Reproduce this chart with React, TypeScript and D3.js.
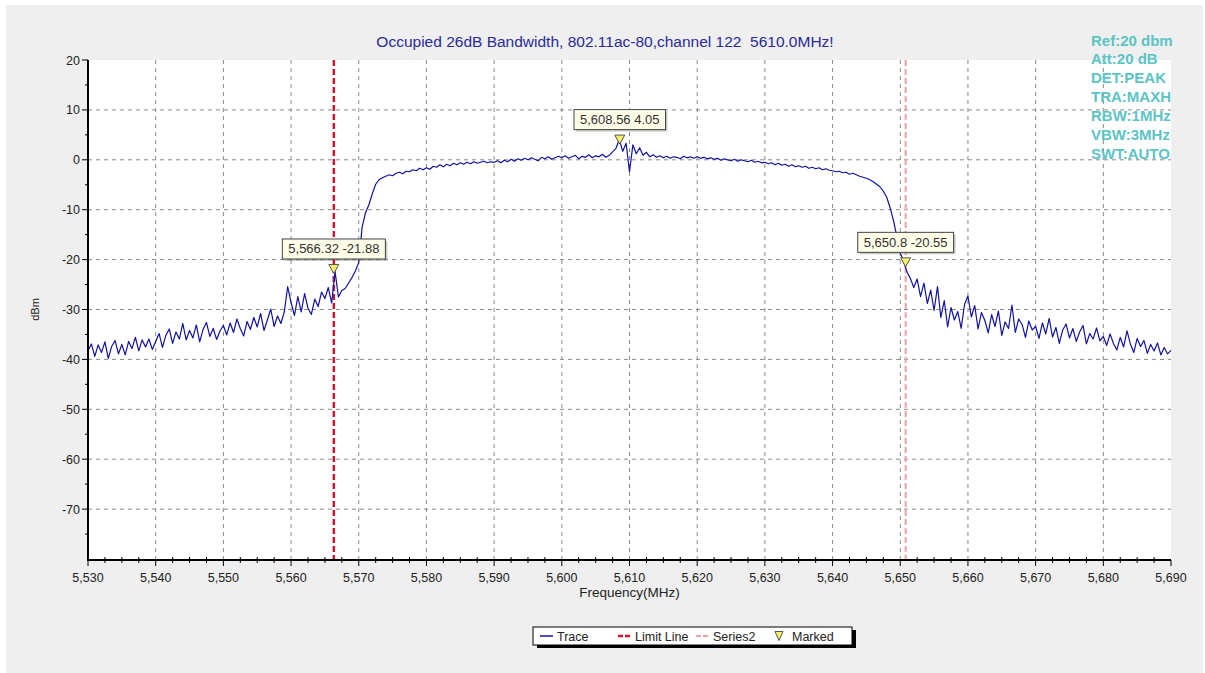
import React from 'react';
import * as d3 from 'd3';

// chart text
const title = 'Occupied 26dB Bandwidth, 802.11ac-80,channel 122  5610.0MHz!';
const infoLines = ['Ref:20 dbm', 'Att:20 dB', 'DET:PEAK', 'TRA:MAXH', 'RBW:1MHz', 'VBW:3MHz', 'SWT:AUTO'];
const legendItems = ['Trace', 'Limit Line', 'Series2', 'Marked'];

// axes
const xTickValues = [5530, 5540, 5550, 5560, 5570, 5580, 5590, 5600, 5610, 5620, 5630, 5640, 5650, 5660, 5670, 5680, 5690];
const yTickValues = [20, 10, 0, -10, -20, -30, -40, -50, -60, -70];

const freqStart = 5530;
const freqStep = 0.5;
const traceDbm = [
  // 5530
  -38.2, -36.9, -39.4, -37.1, -38.6, -36.5, -39.8, -37.4, -36.2, -38.9, -37.0, -39.1, -36.4, -37.8, -35.6, -38.3, -36.1, -37.5, -35.9, -38.0,
  // 5540
  -36.4, -34.8, -37.6, -35.2, -33.9, -36.8, -34.5, -35.9, -32.8, -36.1, -34.2, -35.7, -33.1, -36.5, -34.0, -32.6, -35.4, -33.8, -36.0, -34.3,
  // 5550
  -33.2, -35.1, -32.7, -34.6, -31.9, -33.8, -35.3, -32.4, -34.0, -31.6, -33.5, -30.8, -34.2, -32.1, -29.9, -33.4, -31.3, -32.8, -30.5, -25.4,
  // 5560
  -28.6, -31.2, -27.4, -30.5, -26.8, -29.7, -31.0, -27.9, -29.4, -26.5, -27.8, -25.6, -28.7, -22.4, -27.5, -26.2, -25.8, -24.7, -23.6, -22.3,
  // 5570
  -20.6, -13.5, -10.6, -9.0, -6.8, -4.9, -4.0, -3.6, -3.3, -3.0, -3.2, -2.7, -2.5, -2.8, -2.3, -2.4, -2.0, -2.2, -1.7, -2.0,
  // 5580
  -1.6, -1.9, -1.3, -1.5, -1.0, -1.4, -0.9, -1.2, -0.7, -1.0, -0.6, -0.9, -0.5, -0.8, -0.4, -0.7, -0.5, -0.3, -0.6, -0.4,
  // 5590
  -0.5, -0.2, -0.6, -0.1, -0.4, 0.1, -0.3, 0.2, -0.1, 0.3, 0.0, 0.4, 0.1, -0.2, 0.5, 0.2, 0.6, 0.1, 0.4, 0.7,
  // 5600
  0.4, 0.8, 0.3, 0.6, 0.9, 0.2, 0.7, 0.5, 1.0, 0.4, 0.8, 0.6, 1.1, 0.5, 0.9, 1.6, 2.3, 4.05, 1.7, 3.3,
  // 5610
  -2.4, 3.0, 1.2, 2.4, 0.9, 1.5, 0.6, 1.0, 0.5, 0.8, 0.4, 0.7, 0.3, 0.6, 0.5, 0.2, 0.7, 0.4, 0.6, 0.3,
  // 5620
  0.6, 0.3, 0.5, 0.2, 0.4, 0.1, 0.3, -0.1, 0.2, 0.0, -0.2, 0.1, -0.3, 0.0, -0.2, -0.4, -0.1, -0.5, -0.3, -0.6,
  // 5630
  -0.5, -0.8, -0.6, -1.0, -0.7, -1.1, -0.9, -1.3, -1.0, -1.4, -1.2, -1.5, -1.3, -1.7, -1.5, -1.8, -1.6, -2.0, -1.8, -2.1,
  // 5640
  -2.2, -2.4, -2.3, -2.6, -2.5, -2.9, -2.7, -3.0, -3.3, -3.5, -3.7, -4.0, -4.4, -4.9, -5.4, -6.3, -7.5, -9.6, -12.2, -15.4,
  // 5650
  -18.7, -20.4, -22.5, -23.8, -25.6, -23.9, -27.4, -24.7, -28.8, -26.1, -30.2, -25.4, -31.6, -28.2, -33.5, -29.6, -32.1, -30.4, -33.8, -29.0,
  // 5660
  -27.3, -31.5, -29.2, -33.9, -30.6, -32.2, -34.7, -31.0, -33.4, -30.3, -35.2, -32.5, -33.8, -29.1, -34.6, -31.9, -33.0, -35.6, -32.3, -34.1,
  // 5670
  -33.4, -35.8, -32.7, -34.9, -31.8, -35.5, -33.6, -36.8, -34.1, -32.9, -35.7, -33.8, -36.4, -34.5, -33.2, -36.9, -34.8, -35.9, -33.7, -36.3,
  // 5680 .. 5690
  -35.4, -37.2, -34.9, -36.8, -38.1, -35.6, -37.5, -34.3, -36.9, -38.6, -35.8, -37.4, -36.2, -38.8, -37.0, -38.3, -36.7, -39.1, -37.6, -38.9, -38.2,
];

// limit lines and markers
const limitFreq = 5566.32;
const series2Freq = 5650.8;
const markerFreqs = [5566.32, 5608.56, 5650.8];
const markerDbm = [-21.88, 4.05, -20.55];

const W = 1205;
const H = 673;
const FONT = '"Liberation Sans", Arial, sans-serif';

const textWidth = (s: string, size: number) =>
  (s.split('').reduce((w, c) => w + (/[0-9]/.test(c) ? 6.67 : c === '-' ? 4 : 3.34), 0) * size) / 12;

const App: React.FC = () => {
  const x = d3.scaleLinear().domain([5530, 5690]).range([88, 1171]);
  const y = d3.scaleLinear().domain([-80, 20]).range([559, 60]);
  const fmt = d3.format(',');

  const points: [number, number][] = traceDbm.map((v, i) => [freqStart + i * freqStep, v]);
  const line = d3.line<[number, number]>().x((d) => x(d[0])).y((d) => y(d[1]));

  const minorX: number[] = [];
  for (let i = 0; i < xTickValues.length - 1; i++) {
    [2.5, 5, 7.5].forEach((o) => minorX.push(xTickValues[i] + o));
  }
  const minorY = [15, 5, -5, -15, -25, -35, -45, -55, -65, -75];

  const tri = (cx: number, cy: number, s = 5) =>
    `M${cx - s},${cy - 4.5}L${cx + s},${cy - 4.5}L${cx},${cy + 4.5}Z`;

  const [x0, x1] = x.range();
  const [yb, yt] = y.range();

  return (
    <svg width={W} height={H} style={{ position: 'absolute', left: 0, top: 0, fontFamily: FONT }}>
      <rect x={0} y={0} width={W} height={H} fill="#ffffff" />
      <rect x={6} y={5} width={1197} height={668} fill="#efefef" />
      <rect x={x0} y={yt} width={x1 - x0} height={yb - yt} fill="#ffffff" />

      {/* grid */}
      {xTickValues.slice(1, -1).map((t) => (
        <line key={'gx' + t} x1={x(t)} x2={x(t)} y1={yt} y2={yb} stroke="#8a8a8a" strokeDasharray="4,4" />
      ))}
      {yTickValues.slice(1).map((t) => (
        <line key={'gy' + t} x1={x0} x2={x1} y1={y(t)} y2={y(t)} stroke="#8a8a8a" strokeDasharray="4,4" />
      ))}

      {/* limit lines */}
      <line x1={x(limitFreq)} x2={x(limitFreq)} y1={yt} y2={yb} stroke="#cc1530" strokeWidth={2.5} strokeDasharray="6,3" />
      <line x1={x(series2Freq)} x2={x(series2Freq)} y1={yt} y2={yb} stroke="#f2a0a4" strokeWidth={2} strokeDasharray="6,3" />

      {/* trace */}
      <path d={line(points) || ''} fill="none" stroke="#1212a2" strokeWidth={1.2} strokeLinejoin="round" />

      {/* axes */}
      <line x1={x0} x2={x0} y1={yt} y2={yb + 1} stroke="#000" strokeWidth={2} />
      <line x1={x0 - 1} x2={x1} y1={yb + 1} y2={yb + 1} stroke="#000" strokeWidth={2} />
      {yTickValues.map((t) => (
        <g key={'yt' + t}>
          <line x1={x0 - 6} x2={x0} y1={y(t)} y2={y(t)} stroke="#000" />
          <text x={x0 - 8} y={y(t) + 4.5} textAnchor="end" fontSize={12.5} fill="#222">{t}</text>
        </g>
      ))}
      {minorY.map((t) => (
        <line key={'my' + t} x1={x0 - 3} x2={x0} y1={y(t)} y2={y(t)} stroke="#000" />
      ))}
      {xTickValues.map((t) => (
        <g key={'xt' + t}>
          <line x1={x(t)} x2={x(t)} y1={yb + 1} y2={yb + 7} stroke="#000" />
          <text x={x(t)} y={yb + 23} textAnchor="middle" fontSize={12.5} fill="#222">{fmt(t)}</text>
        </g>
      ))}
      {minorX.map((t) => (
        <line key={'mx' + t} x1={x(t)} x2={x(t)} y1={yb - 2} y2={yb + 4} stroke="#000" />
      ))}

      <text x={(x0 + x1) / 2} y={597} textAnchor="middle" fontSize={13.5} fill="#222">Frequency(MHz)</text>
      <text transform={`translate(39,${(yt + yb) / 2}) rotate(-90)`} textAnchor="middle" fontSize={11} fill="#222">dBm</text>

      {/* title */}
      <text x={605} y={47} textAnchor="middle" fontSize={15.5} fill="#2a2a9a" style={{ whiteSpace: 'pre' }}>{title}</text>

      {/* markers */}
      {markerFreqs.map((f, i) => {
        const cx = x(f);
        const cy = y(markerDbm[i]);
        const label = `${fmt(f)} ${markerDbm[i]}`;
        const bw = textWidth(label, 13) + 12;
        return (
          <g key={'m' + i}>
            <path d={tri(cx, cy)} fill="#f5f06a" stroke="#555" strokeWidth={1} />
            <rect x={cx - bw / 2 + 2} y={cy - 28} width={bw} height={20} fill="#666" opacity={0.35} />
            <rect x={cx - bw / 2} y={cy - 30} width={bw} height={20} fill="#fdfde8" stroke="#444" strokeWidth={1} />
            <text x={cx} y={cy - 15.5} textAnchor="middle" fontSize={13} fill="#333">{label}</text>
          </g>
        );
      })}

      {/* instrument settings */}
      {infoLines.map((s, i) => (
        <text key={s} x={1091} y={45.5 + i * 18.9} fontSize={15} fontWeight="bold" fill="#5cc4c4">{s}</text>
      ))}

      {/* legend */}
      <g>
        <rect x={537} y={630} width={319} height={18} fill="#000" />
        <rect x={533} y={627} width={319} height={18} fill="#fff" stroke="#000" strokeWidth={1} />
        <line x1={540} x2={553} y1={636} y2={636} stroke="#1212a2" strokeWidth={1.5} />
        <text x={557} y={640.5} fontSize={12.5} fill="#222">{legendItems[0]}</text>
        <line x1={618} x2={632} y1={636} y2={636} stroke="#cc1530" strokeWidth={2.5} strokeDasharray="5,2" />
        <text x={635} y={640.5} fontSize={12.5} fill="#222">{legendItems[1]}</text>
        <line x1={696} x2={709} y1={636} y2={636} stroke="#f2a0a4" strokeWidth={2} strokeDasharray="5,2" />
        <text x={713} y={640.5} fontSize={12.5} fill="#222">{legendItems[2]}</text>
        <path d={tri(779, 636, 4)} fill="#f5f06a" stroke="#555" strokeWidth={1} />
        <text x={792} y={640.5} fontSize={12.5} fill="#222">{legendItems[3]}</text>
      </g>
    </svg>
  );
};

export default App;
